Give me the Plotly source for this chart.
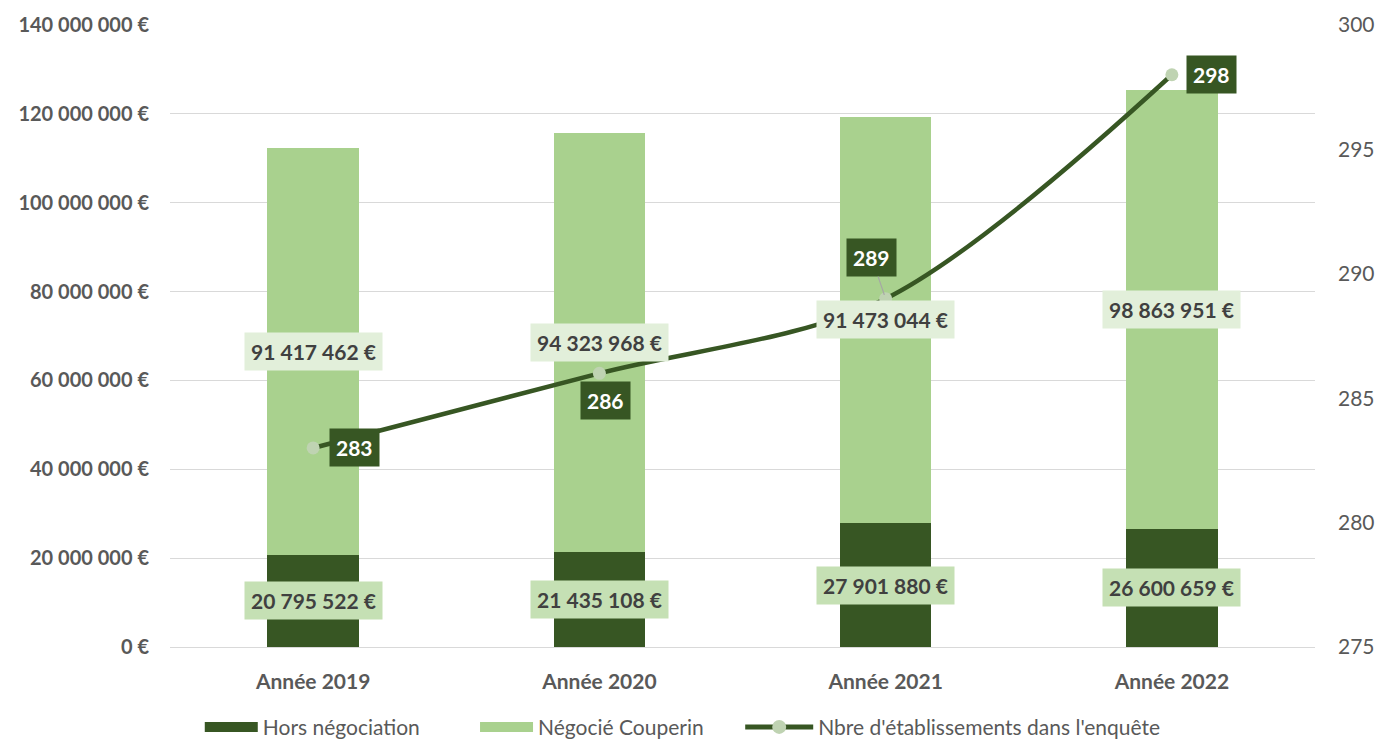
import plotly.graph_objects as go

categories = ["Année 2019", "Année 2020", "Année 2021", "Année 2022"]
hors_negociation = [20795522, 21435108, 27901880, 26600659]
negocie_couperin = [91417462, 94323968, 91473044, 98863951]
nb_etablissements = [283, 286, 289, 298]

left_ticks = [0, 20000000, 40000000, 60000000, 80000000, 100000000, 120000000, 140000000]
right_ticks = [275, 280, 285, 290, 295, 300]

DARK = "#375623"
LIGHT = "#a9d18e"
FONT = "Lato"

def fmt(v):
    return f"{v:,}".replace(",", "\u00a0") + "\u00a0€"

fig = go.Figure()
fig.add_trace(go.Bar(x=categories, y=hors_negociation, name="Hors négociation",
                     marker_color=DARK, marker_line_width=0, showlegend=False))
fig.add_trace(go.Bar(x=categories, y=negocie_couperin, name="Négocié Couperin",
                     marker_color=LIGHT, marker_line_width=0, showlegend=False))
fig.add_trace(go.Scatter(x=categories, y=nb_etablissements, name="Nbre d'établissements dans l'enquête",
                         yaxis="y2", mode="lines+markers", showlegend=False,
                         line=dict(color=DARK, width=4.5, shape="spline", smoothing=0.9),
                         marker=dict(color="#bfd3b2", size=13)))
# legend entries (wide rectangular swatches like the original)
fig.add_trace(go.Scatter(x=[None], y=[None], name="Hors négociation", mode="lines",
                         line=dict(color=DARK, width=15), legend="legend"))
fig.add_trace(go.Scatter(x=[None], y=[None], name="Négocié Couperin", mode="lines",
                         line=dict(color=LIGHT, width=15), legend="legend2"))
fig.add_trace(go.Scatter(x=[None], y=[None], name="Nbre d'établissements dans l'enquête",
                         mode="lines+markers", line=dict(color=DARK, width=5),
                         marker=dict(color="#bfd3b2", size=14), legend="legend3"))

ann = []
for c, h, n in zip(categories, hors_negociation, negocie_couperin):
    ann.append(dict(x=c, y=h / 2, xref="x", yref="y", text=f"<b>{fmt(h)}</b>", showarrow=False,
                    bgcolor="#c5e0b4", borderpad=6, font=dict(family=FONT, size=21, color="#404040")))
    ann.append(dict(x=c, y=h + n / 2, xref="x", yref="y", text=f"<b>{fmt(n)}</b>", showarrow=False,
                    bgcolor="#e2efda", borderpad=6, font=dict(family=FONT, size=21, color="#404040")))

offsets = [dict(xshift=41, yshift=0), dict(xshift=6, yshift=-27), None, dict(xshift=40, yshift=0)]
for i, (c, v) in enumerate(zip(categories, nb_etablissements)):
    base = dict(x=c, y=v, xref="x", yref="y2", text=f"<b>{v}</b>", bgcolor=DARK, borderpad=6,
                font=dict(family=FONT, size=21, color="white"))
    if offsets[i] is None:
        base.update(showarrow=True, ax=-14, ay=-41, arrowhead=0, arrowwidth=1.2, arrowcolor="#a6a6a6",
                    standoff=4)
    else:
        base.update(showarrow=False, **offsets[i])
    ann.append(base)

legend_common = dict(orientation="h", xanchor="left", y=-0.129, yanchor="middle",
                     font=dict(family=FONT, size=21, color="#595959"), bgcolor="rgba(0,0,0,0)")

fig.update_layout(
    width=1389, height=742,
    margin=dict(l=162, r=82, t=17, b=103, autoexpand=False),
    barmode="stack", bargap=0.68,
    plot_bgcolor="white", paper_bgcolor="white",
    font=dict(family=FONT, color="#595959"),
    xaxis=dict(tickfont=dict(family=FONT, size=21, color="#595959", weight="bold"),
               showgrid=False, showline=False, ticks="", ticklabelstandoff=20, automargin=False),
    yaxis=dict(range=[0, 140000000], tickvals=left_ticks, ticktext=[fmt(t) for t in left_ticks],
               tickfont=dict(family=FONT, size=20, color="#595959", weight="bold"),
               showgrid=True, gridcolor="#d9d9d9", gridwidth=1, zeroline=True,
               zerolinecolor="#d9d9d9", zerolinewidth=1, ticklabelstandoff=20, automargin=False),
    yaxis2=dict(range=[275, 300], tickvals=right_ticks, overlaying="y", side="right",
                showgrid=False, zeroline=False, automargin=False,
                tickfont=dict(family=FONT, size=21, color="#595959"), ticklabelstandoff=22),
    legend=dict(x=0.026, itemwidth=53, **legend_common),
    legend2=dict(x=0.2664, itemwidth=53, **legend_common),
    legend3=dict(x=0.498, itemwidth=68, **legend_common),
    annotations=ann,
    showlegend=True,
)

fig.write_html("out.html")
